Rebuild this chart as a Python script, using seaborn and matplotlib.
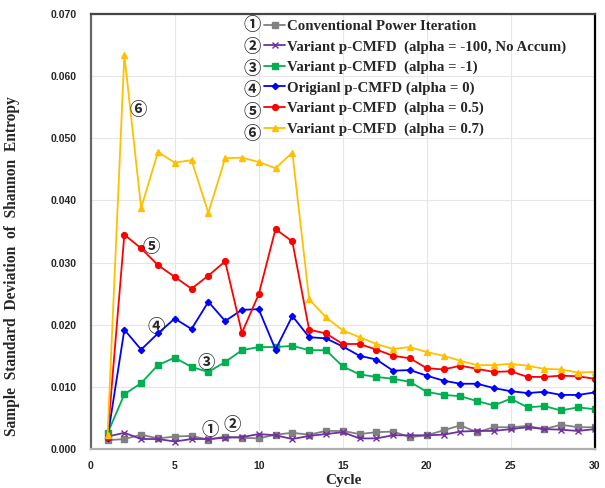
import numpy as np
import pandas as pd
import matplotlib
matplotlib.use("Agg")
import matplotlib.pyplot as plt
import seaborn as sns

cycles = list(range(1, 31))

conventional = [0.0014, 0.0016, 0.0023, 0.0017, 0.0020, 0.0021, 0.0015, 0.0020, 0.0018, 0.0017,
                0.0023, 0.0026, 0.0023, 0.0029, 0.0029, 0.0024, 0.0027, 0.0028, 0.0019, 0.0022,
                0.0030, 0.0038, 0.0027, 0.0035, 0.0035, 0.0037, 0.0032, 0.0039, 0.0035, 0.0035]
variant_m100 = [0.0020, 0.0026, 0.0016, 0.0016, 0.0012, 0.0016, 0.0016, 0.0018, 0.0019, 0.0024,
                0.0022, 0.0016, 0.0021, 0.0024, 0.0027, 0.0017, 0.0017, 0.0022, 0.0022, 0.0022,
                0.0023, 0.0028, 0.0029, 0.0029, 0.0032, 0.0035, 0.0032, 0.0031, 0.0029, 0.0032]
variant_m1 = [0.0025, 0.0088, 0.0106, 0.0135, 0.0147, 0.0132, 0.0124, 0.0140, 0.0159, 0.0164,
              0.0164, 0.0166, 0.0159, 0.0159, 0.0133, 0.0120, 0.0116, 0.0113, 0.0108, 0.0092,
              0.0087, 0.0085, 0.0077, 0.0070, 0.0081, 0.0067, 0.0069, 0.0062, 0.0067, 0.0064]
original = [0.0018, 0.0192, 0.0160, 0.0186, 0.0210, 0.0193, 0.0237, 0.0206, 0.0224, 0.0225,
            0.0160, 0.0214, 0.0180, 0.0178, 0.0165, 0.0150, 0.0144, 0.0126, 0.0127, 0.0118,
            0.0110, 0.0105, 0.0105, 0.0098, 0.0093, 0.0090, 0.0092, 0.0087, 0.0087, 0.0091]
variant_05 = [0.0020, 0.0345, 0.0323, 0.0296, 0.0277, 0.0258, 0.0279, 0.0302, 0.0187, 0.0249,
              0.0354, 0.0334, 0.0192, 0.0186, 0.0169, 0.0169, 0.0160, 0.0150, 0.0146, 0.0130,
              0.0128, 0.0134, 0.0129, 0.0124, 0.0125, 0.0116, 0.0116, 0.0118, 0.0117, 0.0113]
variant_07 = [0.0022, 0.0634, 0.0388, 0.0478, 0.0461, 0.0465, 0.0380, 0.0468, 0.0469, 0.0462,
              0.0452, 0.0477, 0.0241, 0.0212, 0.0191, 0.0180, 0.0169, 0.0161, 0.0164, 0.0156,
              0.0150, 0.0142, 0.0135, 0.0135, 0.0137, 0.0134, 0.0129, 0.0128, 0.0123, 0.0124]

labels = ["Conventional Power Iteration",
          "Variant p-CMFD  (alpha = -100, No Accum)",
          "Variant p-CMFD  (alpha = -1)",
          "Origianl p-CMFD (alpha = 0)",
          "Variant p-CMFD  (alpha = 0.5)",
          "Variant p-CMFD  (alpha = 0.7)"]
numbers = ["\u2460", "\u2461", "\u2462", "\u2463", "\u2464", "\u2465"]

series = [conventional, variant_m100, variant_m1, original, variant_05, variant_07]
colors = ["#808080", "#7030A0", "#00B050", "#0000FF", "#FF0000", "#FFC000"]
markers = ["s", "x", "s", "D", "o", "^"]
msizes = [4, 4, 4, 3.2, 4.2, 4.2]

sns.set_style("whitegrid")
plt.rcParams["font.family"] = ["Liberation Sans", "DejaVu Sans"]

fig = plt.figure(figsize=(6.05, 4.88), dpi=100)
ax = fig.add_axes([0.150, 0.080, 0.833, 0.891])

for vals, lab, c, m, ms in zip(series, labels, colors, markers, msizes):
    sns.lineplot(x=cycles, y=vals, ax=ax, color=c, marker=m, markersize=ms,
                 markeredgecolor=c, markeredgewidth=1.0, linewidth=1.3, label=lab)

ax.set_xlim(0, 30)
ax.set_ylim(0, 0.070)
ax.set_xticks([0, 5, 10, 15, 20, 25, 30])
ax.set_yticks(np.arange(0, 0.0701, 0.01))
ax.set_yticklabels([f"{v:.3f}" for v in np.arange(0, 0.0701, 0.01)])
ax.tick_params(axis="y", labelsize=7.5, length=0, pad=10)
ax.tick_params(axis="x", labelsize=7.5, length=0, pad=9)
for t in ax.get_xticklabels() + ax.get_yticklabels():
    t.set_fontweight("bold")
ax.grid(True, color="#e6e6e6", linewidth=0.8)

ax.spines["left"].set_color("#666666")
ax.spines["top"].set_color("#444444")
ax.spines["right"].set_color("black")
ax.spines["bottom"].set_color("#b0b0b0")
for s in ax.spines.values():
    s.set_linewidth(1.6)

serif = ["Liberation Serif", "DejaVu Serif"]
ax.set_xlabel("Cycle", fontsize=11, fontweight="bold", family=serif)
ax.xaxis.set_label_coords(0.502, -0.057)
ax.set_ylabel("Sample  Standard  Deviation  of  Shannon  Entropy", fontsize=11.2,
              fontweight="bold", family=serif)
ax.yaxis.set_label_coords(-0.14, 0.42)

leg = ax.legend(loc="upper left", bbox_to_anchor=(0.318, 1.018), frameon=False,
                handlelength=1.4, handletextpad=0.15, labelspacing=0.47,
                prop={"family": serif, "weight": "bold", "size": 10.7})

circ = ["Noto Sans CJK JP", "DejaVu Sans"]
for i, n in enumerate(numbers):
    fig.text(252 / 605, 1 - (25 + i * 21.8) / 488, n, fontsize=12.5, family=circ,
             fontweight="bold", ha="center", va="center")

# circled tags near the curves
tags = [(7.1, 0.0031, 0), (8.4, 0.0039, 1), (6.9, 0.0138, 2),
        (3.9, 0.0196, 3), (3.6, 0.0325, 4), (2.8, 0.0546, 5)]
for x, y, i in tags:
    ax.text(x, y, numbers[i], fontsize=12.5, family=circ, fontweight="bold",
            ha="center", va="center")

fig.savefig("out.png", dpi=100)
